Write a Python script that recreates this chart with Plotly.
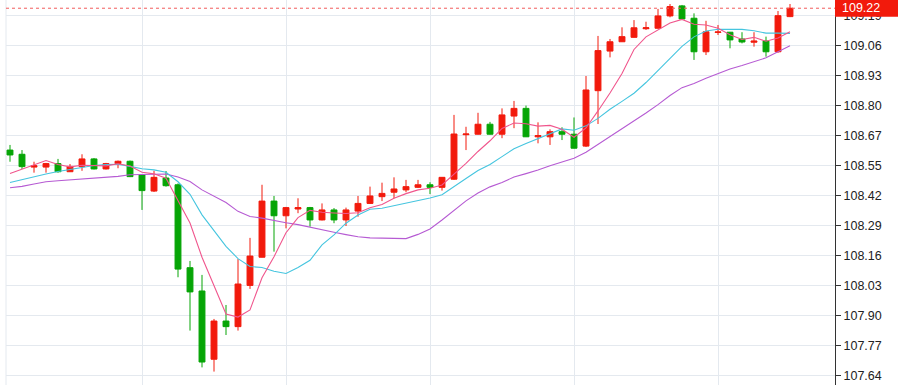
import plotly.graph_objects as go

# ---------------- data ----------------
candle_idx = list(range(66))

opens = [108.611, 108.593, 108.538, 108.538, 108.553, 108.518, 108.540, 108.573, 108.530, 108.553,
         108.563, 108.504, 108.435, 108.491, 108.462, 108.106, 108.006, 107.713, 107.877, 107.853,
         108.030, 108.151, 108.392, 108.329, 108.358, 108.364, 108.311, 108.354, 108.311, 108.349,
         108.382, 108.411, 108.430, 108.440, 108.451, 108.462, 108.451, 108.486, 108.677, 108.679,
         108.722, 108.679, 108.757, 108.790, 108.668, 108.668, 108.690, 108.679, 108.628, 108.866,
         109.036, 109.076, 109.095, 109.132, 109.134, 109.187, 109.230, 109.177, 109.033, 109.116,
         109.117, 109.088, 109.074, 109.079, 109.033, 109.184]
highs = [108.633, 108.611, 108.561, 108.556, 108.573, 108.551, 108.593, 108.577, 108.556, 108.566,
         108.566, 108.508, 108.522, 108.521, 108.468, 108.135, 108.075, 107.886, 107.946, 108.143,
         108.234, 108.462, 108.414, 108.367, 108.404, 108.367, 108.382, 108.362, 108.364, 108.414,
         108.454, 108.471, 108.494, 108.483, 108.483, 108.473, 108.495, 108.762, 108.711, 108.771,
         108.732, 108.790, 108.822, 108.802, 108.730, 108.700, 108.709, 108.751, 108.929, 109.101,
         109.088, 109.138, 109.169, 109.162, 109.217, 109.238, 109.234, 109.198, 109.166, 109.148,
         109.118, 109.117, 109.117, 109.098, 109.208, 109.238]
lows = [108.561, 108.530, 108.514, 108.514, 108.514, 108.517, 108.522, 108.528, 108.528, 108.533,
        108.495, 108.354, 108.431, 108.454, 108.065, 107.836, 107.678, 107.660, 107.817, 107.836,
        108.015, 108.150, 108.175, 108.275, 108.340, 108.282, 108.309, 108.297, 108.285, 108.325,
        108.380, 108.392, 108.404, 108.430, 108.448, 108.422, 108.437, 108.483, 108.611, 108.678,
        108.678, 108.662, 108.705, 108.667, 108.640, 108.633, 108.654, 108.618, 108.624, 108.723,
        109.009, 109.075, 109.094, 109.127, 109.133, 109.181, 109.174, 108.998, 109.019, 109.105,
        109.048, 109.069, 109.055, 109.012, 109.029, 109.182]
closes = [108.590, 108.540, 108.544, 108.553, 108.518, 108.541, 108.573, 108.530, 108.553, 108.563,
          108.497, 108.437, 108.494, 108.458, 108.100, 108.002, 107.701, 107.877, 107.853, 108.036,
          108.156, 108.392, 108.329, 108.364, 108.364, 108.311, 108.354, 108.311, 108.354, 108.382,
          108.414, 108.425, 108.444, 108.454, 108.462, 108.451, 108.494, 108.680, 108.680, 108.722,
          108.679, 108.762, 108.790, 108.668, 108.673, 108.690, 108.679, 108.619, 108.869, 109.038,
          109.076, 109.098, 109.136, 109.136, 109.187, 109.227, 109.174, 109.033, 109.119, 109.118,
          109.084, 109.075, 109.079, 109.033, 109.188, 109.220]

ma5 = [108.510, 108.528, 108.547, 108.566, 108.549, 108.539, 108.546, 108.543, 108.543, 108.552,
       108.543, 108.516, 108.509, 108.490, 108.397, 108.298, 108.151, 108.028, 107.907, 107.894,
       107.925, 108.063, 108.153, 108.256, 108.321, 108.352, 108.344, 108.341, 108.339, 108.342,
       108.363, 108.377, 108.404, 108.424, 108.440, 108.447, 108.461, 108.508, 108.554, 108.605,
       108.651, 108.704, 108.727, 108.724, 108.714, 108.717, 108.700, 108.666, 108.706, 108.779,
       108.856, 108.940, 109.043, 109.097, 109.127, 109.157, 109.172, 109.151, 109.148, 109.134,
       109.106, 109.086, 109.095, 109.078, 109.092, 109.119]
ma10 = [108.472, 108.485, 108.498, 108.508, 108.519, 108.528, 108.536, 108.545, 108.549, 108.550,
        108.541, 108.531, 108.526, 108.516, 108.475, 108.421, 108.333, 108.268, 108.198, 108.145,
        108.111, 108.107, 108.091, 108.081, 108.107, 108.138, 108.204, 108.247, 108.297, 108.332,
        108.357, 108.361, 108.372, 108.381, 108.391, 108.405, 108.419, 108.456, 108.489, 108.523,
        108.549, 108.583, 108.617, 108.639, 108.660, 108.684, 108.702, 108.696, 108.715, 108.747,
        108.786, 108.820, 108.855, 108.901, 108.953, 109.006, 109.056, 109.097, 109.122, 109.130,
        109.131, 109.129, 109.123, 109.113, 109.113, 109.112]
ma20 = [108.449, 108.455, 108.465, 108.475, 108.479, 108.483, 108.486, 108.488, 108.492, 108.498,
        108.505, 108.507, 108.508, 108.508, 108.495, 108.476, 108.440, 108.412, 108.386, 108.348,
        108.326, 108.319, 108.308, 108.299, 108.291, 108.279, 108.269, 108.258, 108.248, 108.239,
        108.234, 108.234, 108.231, 108.231, 108.249, 108.272, 108.311, 108.352, 108.393, 108.427,
        108.453, 108.472, 108.495, 108.510, 108.525, 108.544, 108.561, 108.576, 108.602, 108.635,
        108.668, 108.701, 108.736, 108.770, 108.806, 108.845, 108.879, 108.897, 108.919, 108.939,
        108.959, 108.974, 108.989, 109.007, 109.033, 109.059]

tick_labels = ["107.64", "107.77", "107.90", "108.03", "108.16", "108.29", "108.42",
               "108.55", "108.67", "108.80", "108.93", "109.06", "109.19"]
last_price = 109.22
last_price_label = "109.22"

# ---------------- styling ----------------
RED = "#f21a0c"
GREEN = "#06a506"
GRID = "#e4e9ef"
FONT = "Liberation Sans, Arial, sans-serif"

W, H = 898, 385
ML, MR = 6, 63
y_range = [107.6024, 109.2553]
tick_start, tick_step = 107.644, 0.1288
tick_vals = [tick_start + k * tick_step for k in range(len(tick_labels))]

fig = go.Figure()

fig.add_trace(go.Candlestick(
    x=candle_idx, open=opens, high=highs, low=lows, close=closes,
    increasing=dict(line=dict(color=RED, width=1), fillcolor=RED),
    decreasing=dict(line=dict(color=GREEN, width=1), fillcolor=GREEN),
    whiskerwidth=0, showlegend=False, hoverinfo="skip",
))

for vals, col in ((ma20, "#b65bd3"), (ma10, "#45c5df"), (ma5, "#f0568d")):
    fig.add_trace(go.Scatter(x=candle_idx, y=vals, mode="lines",
                             line=dict(color=col, width=1.1),
                             showlegend=False, hoverinfo="skip"))

# last price dotted line
fig.add_shape(type="line", xref="paper", x0=0, x1=1, yref="y",
              y0=last_price, y1=last_price,
              line=dict(color="#f25c5c", width=1, dash="dot"), layer="above")
# left border
fig.add_shape(type="line", xref="paper", x0=0, x1=0, yref="paper", y0=0, y1=1,
              line=dict(color=GRID, width=1), layer="below")

# last price label box (red rectangle right of the axis)
span = y_range[1] - y_range[0]
box_half = 8.5 / H * span
plot_w = W - ML - MR
fig.add_shape(type="rect", xref="paper", x0=1, x1=1 + MR / plot_w,
              yref="paper",
              y0=(last_price - box_half - y_range[0]) / span,
              y1=(last_price + box_half - y_range[0]) / span,
              line=dict(width=0), fillcolor=RED, layer="above")
fig.add_annotation(xref="paper", x=1, xanchor="left", yref="y", y=last_price,
                   yanchor="middle", text=last_price_label, showarrow=False,
                   xshift=6, borderpad=0,
                   font=dict(family=FONT, size=12.5, color="white"))

fig.update_layout(
    width=W, height=H,
    margin=dict(l=ML, r=MR, t=0, b=0, pad=0),
    paper_bgcolor="white", plot_bgcolor="white",
    showlegend=False,
    boxgap=0.3,
    font=dict(family=FONT, size=12.5, color="#222"),
    xaxis=dict(type="linear", range=[-0.333, 68.75], tickvals=[11, 23, 35, 47, 59],
               showticklabels=False, showgrid=True, gridcolor=GRID, gridwidth=1,
               zeroline=False, showline=False, ticks="",
               rangeslider=dict(visible=False), automargin=False, fixedrange=True),
    yaxis=dict(side="right", range=y_range, tickmode="array",
               tickvals=tick_vals, ticktext=tick_labels,
               showgrid=True, gridcolor=GRID, gridwidth=1, zeroline=False,
               showline=True, linecolor="#333", linewidth=1,
               ticks="outside", ticklen=5, tickcolor="#333", tickwidth=1,
               tickfont=dict(family=FONT, size=12.5, color="#222"),
               automargin=False, fixedrange=True),
)

fig.write_html("out.html", config={"displayModeBar": False},
               post_script="document.body.style.margin='0';document.body.style.overflow='hidden';")
